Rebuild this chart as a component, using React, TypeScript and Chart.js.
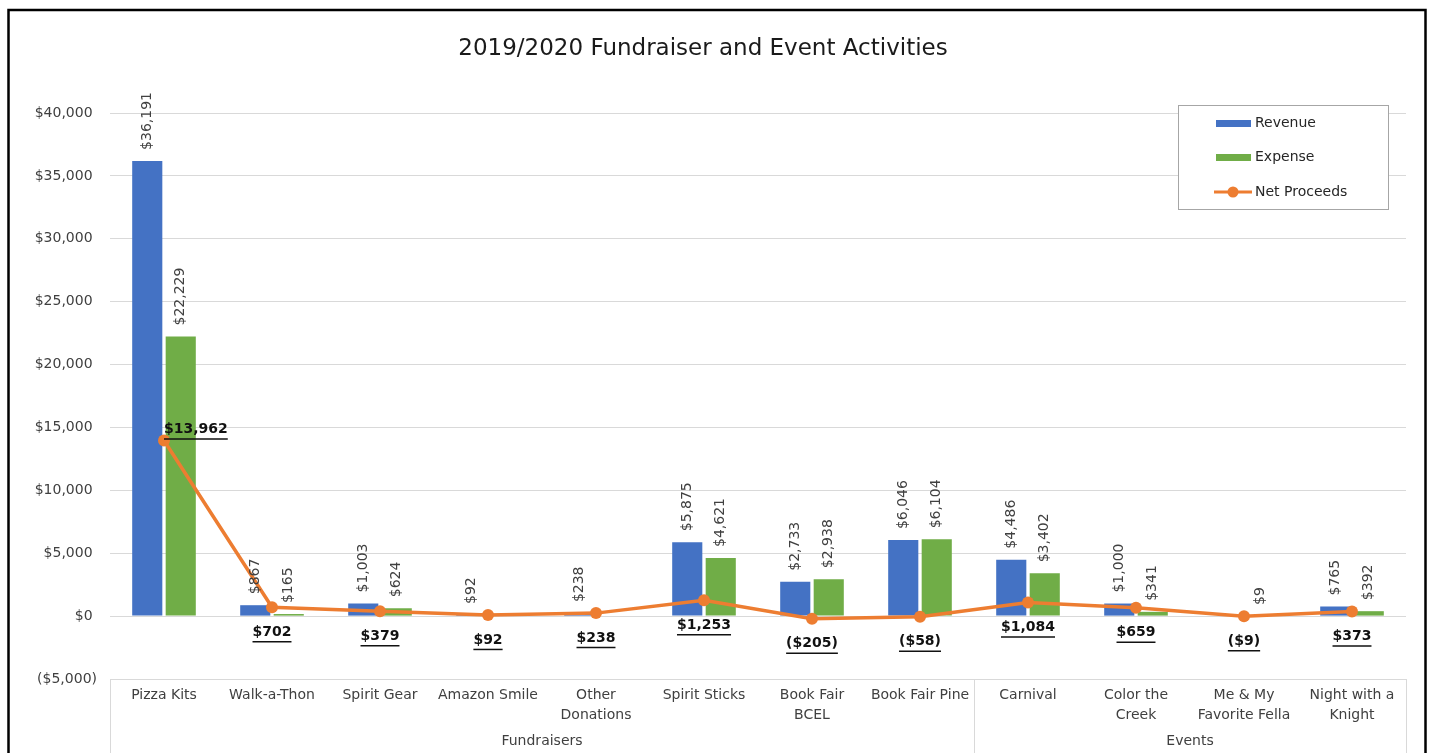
import React, { useEffect, useRef } from 'react';
import { Chart, registerables } from 'chart.js';

Chart.register(...registerables);

const categories: string[][] = [
  ['Pizza Kits'],
  ['Walk-a-Thon'],
  ['Spirit Gear'],
  ['Amazon Smile'],
  ['Other', 'Donations'],
  ['Spirit Sticks'],
  ['Book Fair', 'BCEL'],
  ['Book Fair Pine'],
  ['Carnival'],
  ['Color the', 'Creek'],
  ['Me & My', 'Favorite Fella'],
  ['Night with a', 'Knight'],
];
const groupNames = ['Fundraisers', 'Events'];
const groupSizes = [8, 4];
const revenue: (number | null)[] = [36191, 867, 1003, 92, 238, 5875, 2733, 6046, 4486, 1000, null, 765];
const expense: (number | null)[] = [22229, 165, 624, null, null, 4621, 2938, 6104, 3402, 341, 9, 392];
const netProceeds: number[] = [13962, 702, 379, 92, 238, 1253, -205, -58, 1084, 659, -9, 373];
const yMin = -5000;
const yMax = 40000;
const yStep = 5000;
const titleText = '2019/2020 Fundraiser and Event Activities';
const seriesNames = ['Revenue', 'Expense', 'Net Proceeds'];

const BLUE = '#4472C4';
const GREEN = '#70AD47';
const ORANGE = '#ED7D31';
const FONT = '"DejaVu Sans", sans-serif';
const TEXT = '#404040';
const GRID = '#d9d9d9';

const fmt = (v: number) =>
  v < 0 ? `($${Math.abs(v).toLocaleString('en-US')})` : `$${v.toLocaleString('en-US')}`;

const decorPlugin = {
  id: 'decor',
  beforeDraw(chart: any) {
    const { ctx, width, height } = chart;
    ctx.save();
    ctx.fillStyle = '#ffffff';
    ctx.fillRect(0, 0, width, height);
    ctx.restore();
  },
  afterDatasetsDraw(chart: any) {
    const { ctx } = chart;
    ctx.save();
    // bar labels (rotated)
    [0, 1].forEach((di) => {
      const meta = chart.getDatasetMeta(di);
      const data = chart.data.datasets[di].data;
      meta.data.forEach((el: any, i: number) => {
        const v = data[i];
        if (v === null || v === undefined) return;
        ctx.save();
        ctx.translate(el.x, el.y - 11);
        ctx.rotate(-Math.PI / 2);
        ctx.font = `14px ${FONT}`;
        ctx.fillStyle = TEXT;
        ctx.textAlign = 'left';
        ctx.textBaseline = 'middle';
        ctx.fillText(fmt(v), 0, 0);
        ctx.restore();
      });
    });
    // net proceeds labels (bold, underlined)
    const meta = chart.getDatasetMeta(2);
    meta.data.forEach((el: any, i: number) => {
      const v = netProceeds[i];
      const s = fmt(v);
      ctx.font = `bold 14px ${FONT}`;
      ctx.fillStyle = '#111111';
      ctx.textBaseline = 'middle';
      const w = ctx.measureText(s).width;
      let left: number;
      let cy: number;
      if (v > 10000) {
        left = el.x;
        cy = el.y - 11;
      } else {
        left = el.x - w / 2;
        cy = el.y + 25;
      }
      ctx.textAlign = 'left';
      ctx.fillText(s, left, cy);
      ctx.strokeStyle = '#111111';
      ctx.lineWidth = 1.5;
      ctx.beginPath();
      ctx.moveTo(left, cy + 9.5);
      ctx.lineTo(left + w, cy + 9.5);
      ctx.stroke();
    });
    ctx.restore();
  },
  afterDraw(chart: any) {
    const { ctx, chartArea } = chart;
    const xs = chart.scales.x;
    ctx.save();
    // category box separators
    ctx.strokeStyle = GRID;
    ctx.lineWidth = 1;
    const bounds: number[] = [chartArea.left];
    let idx = 0;
    groupSizes.forEach((n) => {
      idx += n;
      if (idx < categories.length) {
        bounds.push((xs.getPixelForValue(idx - 1) + xs.getPixelForValue(idx)) / 2);
      } else {
        bounds.push(chartArea.right);
      }
    });
    bounds.forEach((bx) => {
      ctx.beginPath();
      ctx.moveTo(Math.round(bx) + 0.5, chartArea.bottom);
      ctx.lineTo(Math.round(bx) + 0.5, chart.height);
      ctx.stroke();
    });
    // group labels
    ctx.font = `14px ${FONT}`;
    ctx.fillStyle = TEXT;
    ctx.textAlign = 'center';
    ctx.textBaseline = 'middle';
    groupNames.forEach((g, gi) => {
      ctx.fillText(g, (bounds[gi] + bounds[gi + 1]) / 2, 741);
    });

    // legend
    const lx = 1178, ly = 105, lw = 210, lh = 104;
    ctx.fillStyle = '#ffffff';
    ctx.fillRect(lx, ly, lw, lh);
    ctx.strokeStyle = '#a6a6a6';
    ctx.lineWidth = 1;
    ctx.strokeRect(lx + 0.5, ly + 0.5, lw, lh);
    const rows = [123, 157, 192];
    ctx.fillStyle = BLUE;
    ctx.fillRect(1216, rows[0] - 3, 35, 7);
    ctx.fillStyle = GREEN;
    ctx.fillRect(1216, rows[1] - 3, 35, 7);
    ctx.strokeStyle = ORANGE;
    ctx.lineWidth = 3;
    ctx.beginPath();
    ctx.moveTo(1214, rows[2]);
    ctx.lineTo(1252, rows[2]);
    ctx.stroke();
    ctx.fillStyle = ORANGE;
    ctx.beginPath();
    ctx.arc(1233, rows[2], 5.5, 0, Math.PI * 2);
    ctx.fill();
    ctx.font = `14px ${FONT}`;
    ctx.fillStyle = '#262626';
    ctx.textAlign = 'left';
    ctx.textBaseline = 'middle';
    seriesNames.forEach((n, i) => ctx.fillText(n, 1255, rows[i]));

    // outer frame
    ctx.strokeStyle = '#000000';
    ctx.lineWidth = 2.5;
    ctx.strokeRect(8.5, 10, 1417, 800);
    ctx.restore();
  },
};

export default function App() {
  const ref = useRef<HTMLCanvasElement | null>(null);
  useEffect(() => {
    if (!ref.current) return;
    const chart = new Chart(ref.current, {
      type: 'bar',
      data: {
        labels: categories,
        datasets: [
          {
            type: 'bar',
            label: seriesNames[0],
            data: revenue,
            backgroundColor: BLUE,
            categoryPercentage: 0.62,
            barPercentage: 0.9,
            order: 1,
          },
          {
            type: 'bar',
            label: seriesNames[1],
            data: expense,
            backgroundColor: GREEN,
            categoryPercentage: 0.62,
            barPercentage: 0.9,
            order: 1,
          },
          {
            type: 'line',
            label: seriesNames[2],
            data: netProceeds,
            borderColor: ORANGE,
            backgroundColor: ORANGE,
            borderWidth: 3.5,
            pointRadius: 6,
            pointBackgroundColor: ORANGE,
            pointBorderColor: ORANGE,
            pointBorderWidth: 0,
            tension: 0,
            order: 0,
          } as any,
        ],
      },
      options: {
        animation: false,
        responsive: true,
        maintainAspectRatio: false,
        layout: { padding: { left: 0, right: 26, top: 0, bottom: 0 } },
        plugins: {
          legend: { display: false },
          tooltip: { enabled: false },
          title: {
            display: true,
            text: titleText,
            color: '#1a1a1a',
            font: { family: FONT, size: 23, weight: 'normal', lineHeight: 1.2 },
            padding: { top: 35, bottom: 50.4 },
          },
        },
        scales: {
          x: {
            offset: true,
            grid: { display: false, drawTicks: false },
            border: { display: false },
            ticks: {
              color: TEXT,
              font: { family: FONT, size: 14, lineHeight: '20px' } as any,
              padding: 6,
              maxRotation: 0,
              autoSkip: false,
            },
            afterFit: (scale: any) => {
              scale.height = 74;
            },
          },
          y: {
            min: yMin,
            max: yMax,
            grid: { color: GRID, drawTicks: false, lineWidth: 1 },
            border: { display: false },
            ticks: {
              stepSize: yStep,
              color: TEXT,
              font: { family: FONT, size: 14 },
              padding: 13,
              callback: (v: any) => (Number(v) < 0 ? fmt(Number(v)) : fmt(Number(v)) + ' '),
            },
            afterFit: (scale: any) => {
              scale.width = 110;
            },
          },
        },
      },
      plugins: [decorPlugin],
    });
    return () => chart.destroy();
  }, []);
  return (
    <div style={{ position: 'fixed', left: 0, top: 0, width: 1432, height: 753 }}>
      <canvas ref={ref} />
    </div>
  );
}
